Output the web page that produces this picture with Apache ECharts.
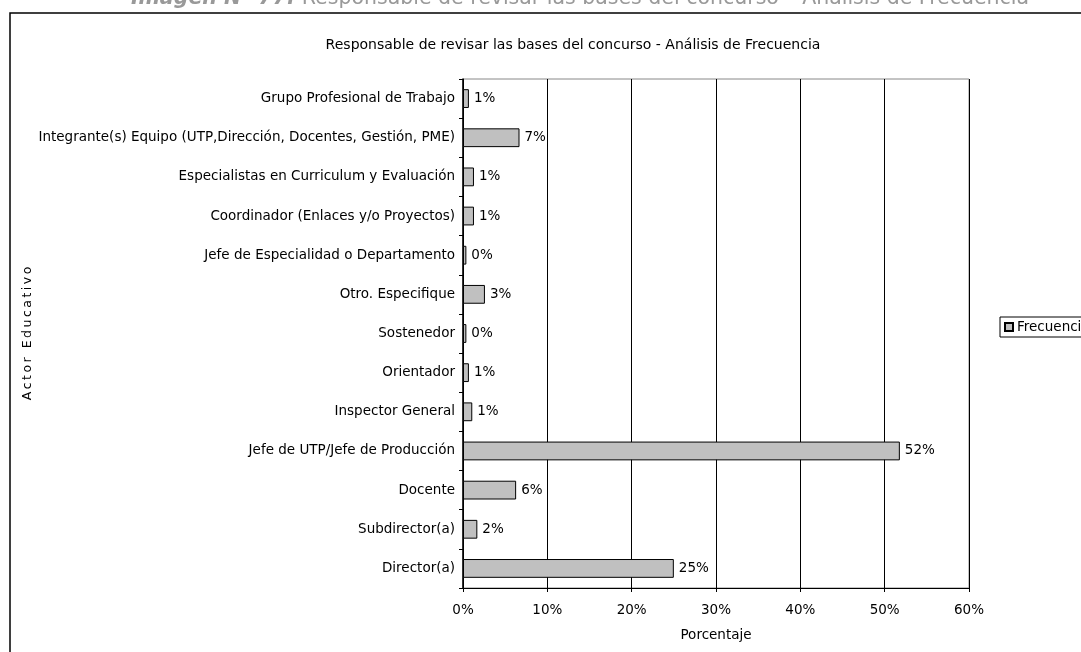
<!DOCTYPE html>
<html>
<head>
<meta charset="utf-8">
<script src="https://cdn.jsdelivr.net/npm/echarts@6/dist/echarts.min.js"></script>
<style>
  html, body { margin: 0; padding: 0; background: #fff; }
  #chart { width: 1081px; height: 652px; }
</style>
</head>
<body>
<div id="chart"></div>
<script>
// categories listed bottom to top (as the axis draws them)
const actores = [
  'Director(a)',
  'Subdirector(a)',
  'Docente',
  'Jefe de UTP/Jefe de Producción',
  'Inspector General',
  'Orientador',
  'Sostenedor',
  'Otro. Especifique',
  'Jefe de Especialidad o Departamento',
  'Coordinador (Enlaces y/o Proyectos)',
  'Especialistas en Curriculum y Evaluación',
  'Integrante(s) Equipo (UTP,Dirección, Docentes, Gestión, PME)',
  'Grupo Profesional de Trabajo'
];
// percentages
const frecuencia = [25.0, 1.7, 6.3, 51.8, 1.1, 0.7, 0.4, 2.6, 0.4, 1.3, 1.3, 6.7, 0.7];

const xTicks = [0, 10, 20, 30, 40, 50, 60];

const FONT = 'DejaVu Sans';
const FS = 13.5;
const CAP = 20.5;

const chart = echarts.init(document.getElementById('chart'));

chart.setOption({
  animation: false,
  textStyle: { fontFamily: FONT },
  title: {
    text: 'Responsable de revisar las bases del concurso - Análisis de Frecuencia',
    left: 568,
    textAlign: 'center',
    top: 33,
    textStyle: { fontSize: 14, fontWeight: 'normal', color: '#000', fontFamily: FONT }
  },
  graphic: [
    {
      // outer frame of the chart (runs off the right and bottom edges)
      type: 'rect',
      shape: { x: 10, y: 13, width: 1200, height: 800 },
      style: { fill: 'none', stroke: '#000', lineWidth: 1.5 },
      z: -1
    },
    {
      // caption above the frame, mostly cut off by the top edge
      type: 'text',
      x: 580,
      y: -1,
      style: {
        text: '{b|Imagen N° 77:}{n| Responsable de revisar las bases del concurso – Análisis de Frecuencia}',
        align: 'center',
        verticalAlign: 'middle',
        fill: '#999',
        fontSize: CAP,
        fontFamily: FONT,
        rich: {
          b: { fontWeight: 'bold', fontStyle: 'italic', fontSize: CAP, fontFamily: FONT, fill: '#999' },
          n: { fontSize: CAP, fontFamily: FONT, fill: '#999' }
        }
      }
    }
  ],
  legend: {
    left: 1000,
    top: 317,
    padding: [3, 4, 3, 4],
    borderColor: '#000',
    borderWidth: 1,
    backgroundColor: '#fff',
    itemWidth: 8,
    itemHeight: 8,
    itemGap: 4,
    icon: 'rect',
    textStyle: { fontSize: FS, color: '#000', fontFamily: FONT, padding: [0, 0, 0, -1] },
    data: ['Frecuencia']
  },
  grid: {
    left: 463,
    right: 112,
    top: 79,
    bottom: 64,
    show: true,
    borderColor: '#888',
    borderWidth: 1
  },
  xAxis: {
    type: 'value',
    min: xTicks[0],
    max: xTicks[xTicks.length - 1],
    interval: 10,
    name: 'Porcentaje',
    nameLocation: 'middle',
    nameGap: 40,
    nameTextStyle: { fontSize: FS, color: '#000', fontFamily: FONT },
    axisLine: { show: true, lineStyle: { color: '#000', width: 1 } },
    axisTick: { show: true, length: 4, lineStyle: { color: '#000' } },
    axisLabel: {
      fontSize: FS, color: '#000', margin: 15, fontFamily: FONT,
      formatter: v => v + '%'
    },
    splitLine: { show: true, lineStyle: { color: '#000', width: 1 } }
  },
  yAxis: {
    type: 'category',
    data: actores,
    name: 'A\u2009c\u2009t\u2009o\u2009r\u2009 \u2009E\u2009d\u2009u\u2009c\u2009a\u2009t\u2009i\u2009v\u2009o',
    nameLocation: 'middle',
    nameGap: 421,
    nameRotate: 90,
    nameTextStyle: { fontSize: 12.5, color: '#000', fontFamily: FONT },
    axisLine: { show: true, lineStyle: { color: '#000', width: 1.5 } },
    axisTick: { show: true, length: 4, lineStyle: { color: '#000' } },
    axisLabel: { fontSize: FS, color: '#000', margin: 8, fontFamily: FONT },
    splitLine: { show: false }
  },
  series: [
    {
      name: 'Frecuencia',
      type: 'bar',
      data: frecuencia,
      barWidth: '48%',
      itemStyle: { color: '#c0c0c0', borderColor: '#000', borderWidth: 1 },
      label: {
        show: true,
        position: 'right',
        distance: 5,
        fontSize: FS,
        color: '#000',
        fontFamily: FONT,
        formatter: p => Math.round(p.value) + '%'
      }
    }
  ]
});
</script>
</body>
</html>
